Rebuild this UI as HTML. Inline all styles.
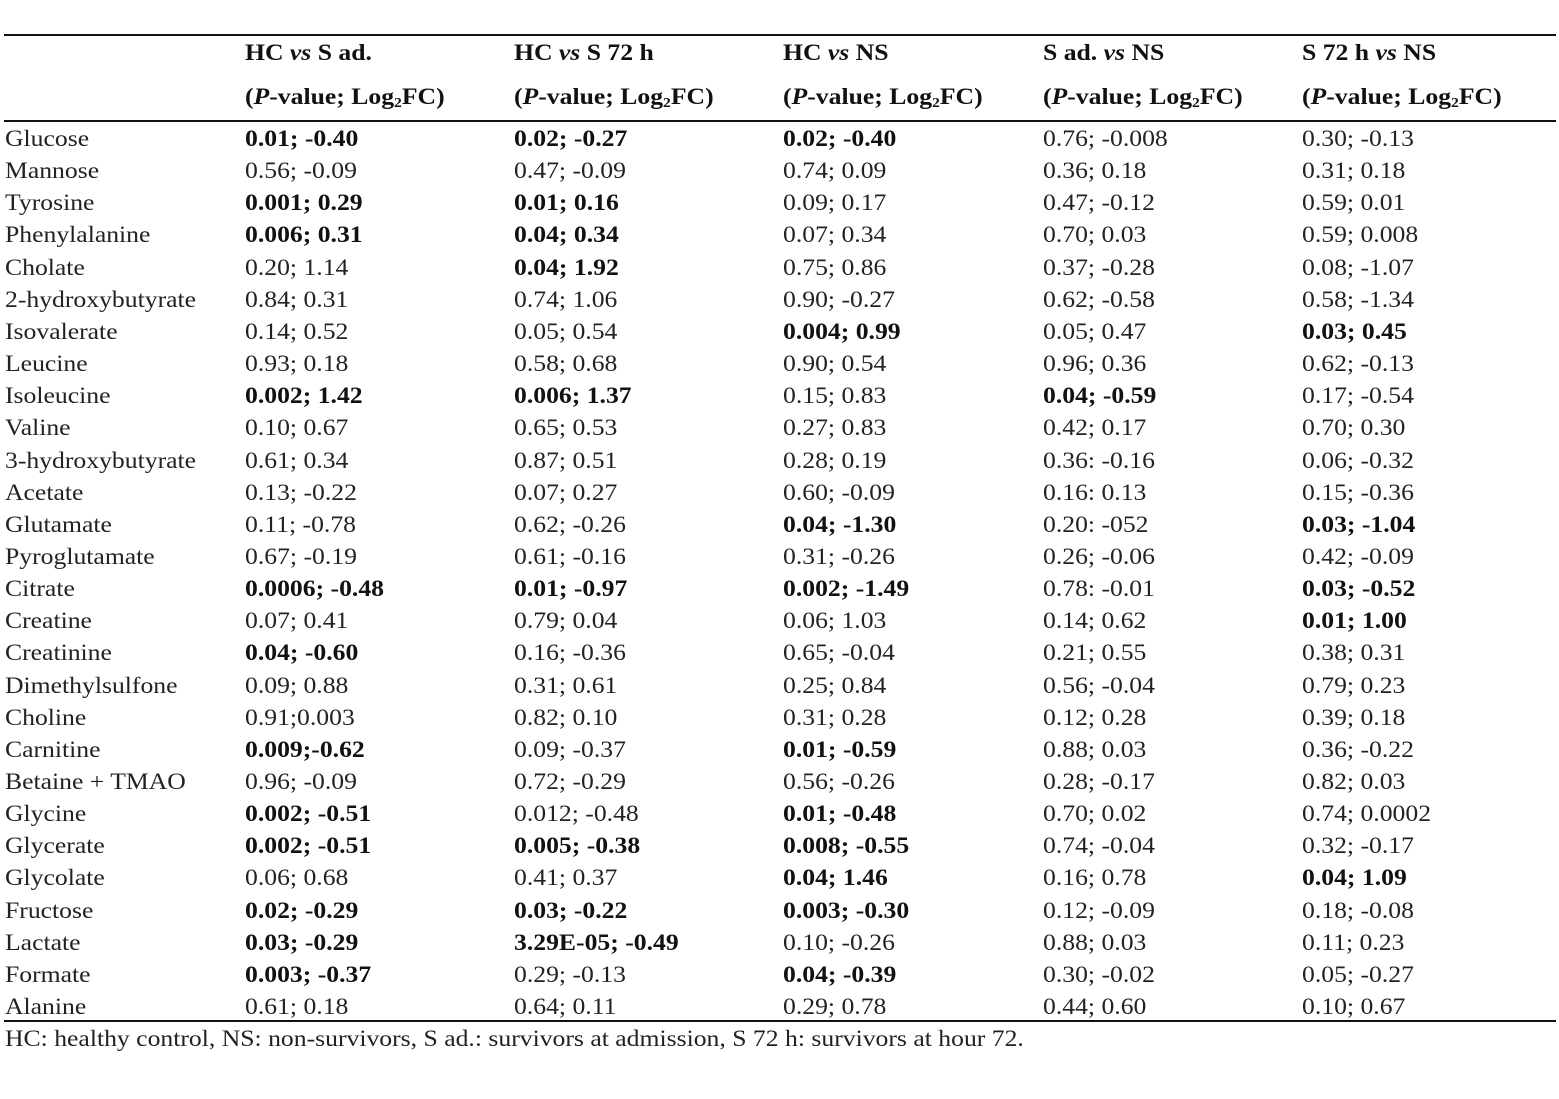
<!DOCTYPE html>
<html><head><meta charset="utf-8"><style>
body{margin:0;width:1559px;height:1099px;background:#fff;position:relative;font-family:"Liberation Serif",serif;font-size:23px;color:#222;overflow:hidden}
.l{position:absolute;left:4px;width:1552px;background:#111}
.t{position:absolute;white-space:nowrap;line-height:32px;transform:scaleX(1.116);transform-origin:0 50%}
b{font-weight:bold;color:#111}
</style></head><body>
<div class="l" style="top:34px;height:2px"></div>
<div class="l" style="top:120px;height:2px"></div>
<div class="l" style="top:1020px;height:2px"></div>
<div id="c"></div>
<script>
var h1=["HC <i>vs</i> S ad.","HC <i>vs</i> S 72 h","HC <i>vs</i> NS","S ad. <i>vs</i> NS","S 72 h <i>vs</i> NS"];
var xs=[5,245,514,783,1043,1302];
var s="";
for(var i=0;i<5;i++){s+='<div class="t" style="left:'+xs[i+1]+'px;top:37px"><b>'+h1[i]+'</b></div>';
s+='<div class="t" style="left:'+xs[i+1]+'px;top:81px"><b>(<i>P</i>-value; Log<sub style="font-size:14px;vertical-align:-3px">2</sub>FC)</b></div>';}
var rows=[
["Glucose","*0.01; -0.40","*0.02; -0.27","*0.02; -0.40","0.76; -0.008","0.30; -0.13"],
["Mannose","0.56; -0.09","0.47; -0.09","0.74; 0.09","0.36; 0.18","0.31; 0.18"],
["Tyrosine","*0.001; 0.29","*0.01; 0.16","0.09; 0.17","0.47; -0.12","0.59; 0.01"],
["Phenylalanine","*0.006; 0.31","*0.04; 0.34","0.07; 0.34","0.70; 0.03","0.59; 0.008"],
["Cholate","0.20; 1.14","*0.04; 1.92","0.75; 0.86","0.37; -0.28","0.08; -1.07"],
["2-hydroxybutyrate","0.84; 0.31","0.74; 1.06","0.90; -0.27","0.62; -0.58","0.58; -1.34"],
["Isovalerate","0.14; 0.52","0.05; 0.54","*0.004; 0.99","0.05; 0.47","*0.03; 0.45"],
["Leucine","0.93; 0.18","0.58; 0.68","0.90; 0.54","0.96; 0.36","0.62; -0.13"],
["Isoleucine","*0.002; 1.42","*0.006; 1.37","0.15; 0.83","*0.04; -0.59","0.17; -0.54"],
["Valine","0.10; 0.67","0.65; 0.53","0.27; 0.83","0.42; 0.17","0.70; 0.30"],
["3-hydroxybutyrate","0.61; 0.34","0.87; 0.51","0.28; 0.19","0.36: -0.16","0.06; -0.32"],
["Acetate","0.13; -0.22","0.07; 0.27","0.60; -0.09","0.16: 0.13","0.15; -0.36"],
["Glutamate","0.11; -0.78","0.62; -0.26","*0.04; -1.30","0.20: -052","*0.03; -1.04"],
["Pyroglutamate","0.67; -0.19","0.61; -0.16","0.31; -0.26","0.26; -0.06","0.42; -0.09"],
["Citrate","*0.0006; -0.48","*0.01; -0.97","*0.002; -1.49","0.78: -0.01","*0.03; -0.52"],
["Creatine","0.07; 0.41","0.79; 0.04","0.06; 1.03","0.14; 0.62","*0.01; 1.00"],
["Creatinine","*0.04; -0.60","0.16; -0.36","0.65; -0.04","0.21; 0.55","0.38; 0.31"],
["Dimethylsulfone","0.09; 0.88","0.31; 0.61","0.25; 0.84","0.56; -0.04","0.79; 0.23"],
["Choline","0.91;0.003","0.82; 0.10","0.31; 0.28","0.12; 0.28","0.39; 0.18"],
["Carnitine","*0.009;-0.62","0.09; -0.37","*0.01; -0.59","0.88; 0.03","0.36; -0.22"],
["Betaine + TMAO","0.96; -0.09","0.72; -0.29","0.56; -0.26","0.28; -0.17","0.82; 0.03"],
["Glycine","*0.002; -0.51","0.012; -0.48","*0.01; -0.48","0.70; 0.02","0.74; 0.0002"],
["Glycerate","*0.002; -0.51","*0.005; -0.38","*0.008; -0.55","0.74; -0.04","0.32; -0.17"],
["Glycolate","0.06; 0.68","0.41; 0.37","*0.04; 1.46","0.16; 0.78","*0.04; 1.09"],
["Fructose","*0.02; -0.29","*0.03; -0.22","*0.003; -0.30","0.12; -0.09","0.18; -0.08"],
["Lactate","*0.03; -0.29","*3.29E-05; -0.49","0.10; -0.26","0.88; 0.03","0.11; 0.23"],
["Formate","*0.003; -0.37","0.29; -0.13","*0.04; -0.39","0.30; -0.02","0.05; -0.27"],
["Alanine","0.61; 0.18","0.64; 0.11","0.29; 0.78","0.44; 0.60","0.10; 0.67"]];
for(var r=0;r<rows.length;r++){var y=Math.round(139+32.15*r-16);
for(var c=0;c<6;c++){var v=rows[r][c];if(v[0]=="*")v="<b>"+v.slice(1)+"</b>";
s+='<div class="t" style="left:'+xs[c]+'px;top:'+y+'px">'+v+'</div>';}}
s+='<div class="t" style="left:5px;top:1023px">HC: healthy control, NS: non-survivors, S ad.: survivors at admission, S 72 h: survivors at hour 72.</div>';
document.getElementById("c").innerHTML=s;
</script>
</body></html>
